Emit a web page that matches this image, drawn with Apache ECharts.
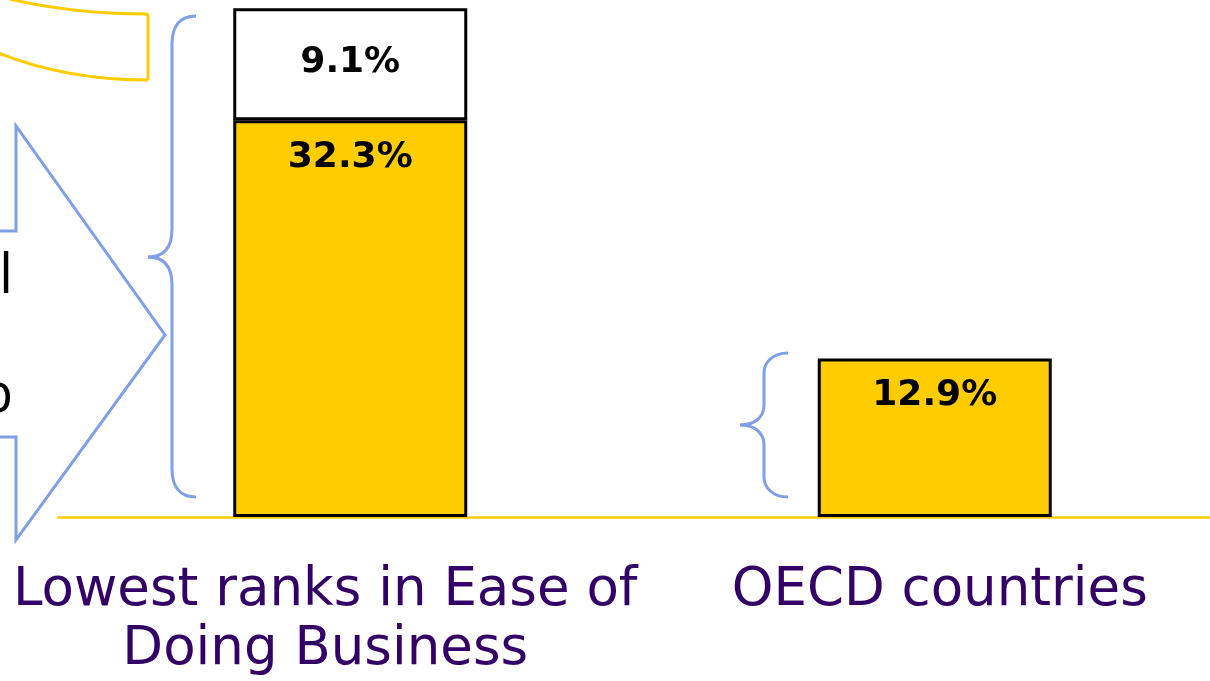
<!DOCTYPE html>
<html><head><meta charset="utf-8">
<script src="https://cdn.jsdelivr.net/npm/echarts@6/dist/echarts.min.js"></script>
<style>html,body{margin:0;padding:0;background:#fff}#c{width:1210px;height:681px}</style>
</head><body><div id="c"></div>
<script>
const categories = ['Lowest ranks in Ease of\nDoing Business', 'OECD countries'];
const baseValues = [32.3, 12.9];
const topValues = [9.1, null];

const chart = echarts.init(document.getElementById('c'));
const blue = '#7F9FE6';
const labelStyle = {show: true, color: '#000', fontFamily: 'DejaVu Sans', fontWeight: 'bold', fontSize: 36,
  formatter: p => p.value.toFixed(1) + '%'};

function bez(x1, y1, c1x, c1y, c2x, c2y, x2, y2, color) {
  return {type: 'bezierCurve', shape: {x1, y1, x2, y2, cpx1: c1x, cpy1: c1y, cpx2: c2x, cpy2: c2y},
    style: {fill: 'none', stroke: color, lineWidth: 3}};
}
function qbez(x1, y1, cx, cy, x2, y2, color) {
  return {type: 'bezierCurve', shape: {x1, y1, x2, y2, cpx1: cx, cpy1: cy},
    style: {fill: 'none', stroke: color, lineWidth: 3}};
}
function ln(x1, y1, x2, y2, color) {
  return {type: 'line', shape: {x1, y1, x2, y2}, style: {stroke: color, lineWidth: 3}};
}
function brace(xe, xv, xm, yt, ym, yb, r) {
  return [
    bez(xe, yt, xe - 16, yt, xv, yt + 10, xv, yt + r),
    ln(xv, yt + r, xv, ym - r),
    bez(xv, ym - r, xv, ym - 8, xv - 9, ym, xm, ym),
    bez(xm, ym, xv - 9, ym, xv, ym + 8, xv, ym + r),
    ln(xv, ym + r, xv, yb - r),
    bez(xv, yb - r, xv, yb - 10, xe - 16, yb, xe, yb)
  ].map(e => { e.style.stroke = blue; return e; });
}

chart.setOption({
  animation: false,
  grid: {left: 58, right: -17, top: 1, bottom: 164, outerBoundsMode: 'none', containLabel: false},
  xAxis: {type: 'category', data: [
      {value: categories[0], textStyle: {padding: [0, 50, 0, 0]}},
      {value: categories[1], textStyle: {padding: [0, 0, 0, 10]}}],
    axisLine: {lineStyle: {color: '#FFCC00', width: 2.5}}, axisTick: {show: false},
    axisLabel: {color: '#330066', fontFamily: 'DejaVu Sans', fontSize: 53, lineHeight: 59, margin: 45, interval: 0}},
  yAxis: {type: 'value', min: 0, max: 42, show: false, splitLine: {show: false}},
  series: [
    {type: 'bar', stack: 's', data: baseValues, barWidth: 234,
     itemStyle: {color: '#FFCC00', borderColor: '#000', borderWidth: 3},
     label: Object.assign({}, labelStyle, {position: 'insideTop', distance: 19})},
    {type: 'bar', stack: 's', data: topValues, barWidth: 234,
     itemStyle: {color: '#fff', borderColor: '#000', borderWidth: 3},
     label: Object.assign({}, labelStyle, {position: 'inside', offset: [0, -2]})}
  ],
  graphic: [].concat(
    [qbez(-30, -12, 50, 14, 148, 14, '#FFCC00'),
     ln(148, 14, 148, 80, '#FFCC00'),
     qbez(148, 80, 55, 80, -20, 45, '#FFCC00'),
     {type: 'polygon', shape: {points: [[-100,231],[16,231],[16,126],[165,335],[16,540],[16,437],[-100,437]]},
      style: {fill: 'none', stroke: blue, lineWidth: 3}}],
    brace(196, 172, 148, 16, 257, 497, 28),
    brace(788, 764, 740, 353, 425, 497, 20),
    [{type: 'text', x: 13, y: 251, style: {text: 'al', fill: '#000', font: '54px "Open Sans"', textAlign: 'right'}},
     {type: 'text', x: 13, y: 370, style: {text: 'p', fill: '#000', font: '54px "Open Sans"', textAlign: 'right'}}]
  )
});
</script></body></html>
